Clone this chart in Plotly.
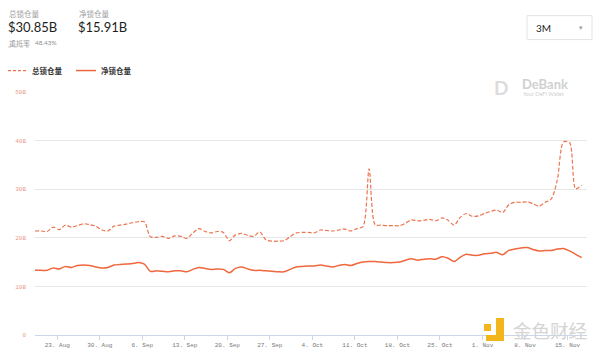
import pandas as pd
import plotly.graph_objects as go

# ---------------- data ----------------
dates = pd.date_range("2021-08-19 08:00", "2021-11-17 08:00", freq="D")

total_locked = [
    21.4, 21.4, 21.3, 22.2, 21.7, 22.6, 22.2, 22.5, 22.9, 22.7, 22.4, 21.6,
    21.4, 22.4, 22.6, 22.8, 23.1, 23.3, 23.3, 20.2, 20.1, 20.3, 19.9, 20.4,
    20.3, 19.9, 21.0, 21.9, 21.3, 21.0, 21.3, 21.1, 19.4, 20.6, 20.9, 20.5,
    20.3, 21.2, 19.6, 19.3, 19.3, 19.4, 20.2, 21.0, 21.1, 21.1, 21.0,
    21.6, 21.5, 21.4, 21.6, 21.8, 21.4, 21.9, 22.3, 34.2, 22.7, 22.6, 22.5,
    22.5, 22.5, 23.0, 23.7, 23.5, 23.6, 23.8, 23.5,
    24.1, 23.6, 22.6, 24.2, 25.0, 24.4, 24.5, 25.0, 25.4, 25.7, 25.2, 26.8,
    27.3, 27.3, 27.4, 27.0, 26.5, 27.3, 28.0, 32.0, 39.7, 39.6, 30.1, 30.85,
]
net_locked = [
    13.3, 13.3, 13.3, 13.8, 13.6, 14.1, 13.9, 14.3, 14.4, 14.3, 14.0, 13.8,
    13.9, 14.4, 14.5, 14.6, 14.7, 14.9, 14.6, 13.1, 13.2, 13.1, 13.0, 13.2,
    13.2, 13.0, 13.5, 13.9, 13.7, 13.5, 13.6, 13.5, 12.8, 13.7, 14.0, 13.6,
    13.3, 13.3, 13.2, 13.1, 13.0, 13.0, 13.5, 14.0, 14.1, 14.2, 14.2,
    14.4, 14.2, 14.0, 14.3, 14.5, 14.3, 14.7, 15.0, 15.1, 15.1, 15.0, 14.9,
    14.9, 15.0, 15.4, 15.7, 15.4, 15.6, 15.7, 15.6,
    16.1, 15.8, 15.1, 16.0, 16.6, 16.4, 16.4, 16.7, 16.8, 17.0, 16.5, 17.4,
    17.7, 17.9, 18.0, 17.6, 17.3, 17.4, 17.4, 17.7, 17.8, 17.3, 16.6, 15.91,
]

x_tick_dates = ["2021-08-23", "2021-08-30", "2021-09-06", "2021-09-13",
                "2021-09-20", "2021-09-27", "2021-10-04", "2021-10-11",
                "2021-10-18", "2021-10-25", "2021-11-01", "2021-11-08",
                "2021-11-15"]
x_tick_labels = ["23. Aug", "30. Aug", "6. Sep", "13. Sep", "20. Sep",
                 "27. Sep", "4. Oct", "11. Oct", "18. Oct", "25. Oct",
                 "1. Nov", "8. Nov", "15. Nov"]
y_tick_vals = [0, 10, 20, 30, 40, 50]
y_tick_labels = ["0", "10B", "20B", "30B", "40B", "50B"]

series_names = ["总锁仓量", "净锁仓量"]
header_values = ["$30.85B", "$15.91B"]
ratio_label = "重抵率"
ratio_value = "48.43%"

# ---------------- layout geometry ----------------
WIDTH, HEIGHT = 600, 354
L, R, T, B = 35, 13, 91.5, 19
PW = WIDTH - L - R
PH = HEIGHT - T - B


def px(x):
    return (x - L) / PW


def py(y):
    return (HEIGHT - B - y) / PH


LINE_COLOR = "#f0673d"

fig = go.Figure()
fig.add_trace(go.Scatter(
    x=dates, y=total_locked, mode="lines", name=series_names[0],
    line=dict(color="#ec7550", width=1.2, dash="4px,2px", shape="spline", smoothing=0.8),
    hoverinfo="skip", showlegend=False,
))
fig.add_trace(go.Scatter(
    x=dates, y=net_locked, mode="lines", name=series_names[1],
    line=dict(color=LINE_COLOR, width=1.5, shape="spline", smoothing=0.8),
    hoverinfo="skip", showlegend=False,
))

mono = "Liberation Mono"
fig.update_xaxes(
    type="date",
    range=["2021-08-19 08:00", "2021-11-18 05:00"],
    tickvals=x_tick_dates, ticktext=x_tick_labels,
    showgrid=False, zeroline=False,
    showline=True, linecolor="#ccd6eb", linewidth=1,
    ticks="outside", ticklen=4, tickcolor="#ccd6eb",
    tickfont=dict(family=mono, size=6, color="#777777"),
    automargin=False,
)
fig.update_yaxes(
    range=[0, 50], tickvals=y_tick_vals, ticktext=y_tick_labels,
    showgrid=True, gridcolor="#e6e6e6", gridwidth=1, zeroline=False,
    showline=False, ticks="",
    ticklabelstandoff=8,
    tickfont=dict(family=mono, size=6, color="#eb9a88"),
    automargin=False,
)

ann = []
shapes = []


def text(x, y, s, size, color, family="Noto Sans CJK SC", xanchor="left", bold=False):
    ann.append(dict(
        x=px(x), y=py(y), xref="paper", yref="paper", text=(f"<b>{s}</b>" if bold else s),
        showarrow=False, xanchor=xanchor, yanchor="middle",
        font=dict(size=size, color=color, family=family),
    ))


# header
text(7, 12.5, series_names[0], 7.5, "#a0a0a0")
text(77, 12.5, series_names[1], 7.5, "#a0a0a0")
text(6, 26, header_values[0], 13, "#1e1e1e", family="Lato")
text(76, 26, header_values[1], 13, "#1e1e1e", family="Lato")
text(7, 42, ratio_label, 7, "#a0a0a0")
text(33, 42, ratio_value, 6.5, "#909090", family="Lato")
shapes.append(dict(type="line", xref="paper", yref="paper",
                   x0=px(8), x1=px(30), y0=py(46.5), y1=py(46.5),
                   line=dict(color="#c0c0c0", width=0.8, dash="dot")))

# legend
shapes.append(dict(type="line", xref="paper", yref="paper",
                   x0=px(8), x1=px(27), y0=py(70), y1=py(70),
                   line=dict(color="#ec7550", width=1.2, dash="3px,2px")))
text(30, 70, series_names[0], 7.5, "#333333", bold=True)
shapes.append(dict(type="line", xref="paper", yref="paper",
                   x0=px(76), x1=px(96), y0=py(70), y1=py(70),
                   line=dict(color=LINE_COLOR, width=1.5)))
text(99, 70, series_names[1], 7.5, "#333333", bold=True)

# range selector box
shapes.append(dict(type="rect", xref="paper", yref="paper",
                   x0=px(527), x1=px(592), y0=py(15), y1=py(39),
                   line=dict(color="#e3e3e3", width=1), fillcolor="white"))
text(534, 27.5, "3M", 10, "#222222", family="Lato")
text(581, 27, "▾", 7, "#a0a0a0", family="DejaVu Sans", xanchor="center")

# DeBank watermark
text(492, 87, "<b>D</b>", 19, "#dcdcdc", family="Lato")
text(520, 83, "DeBank", 13, "#d0d0d0", family="Lato", bold=True)
text(521, 94, "Your DeFi Wallet", 5.5, "#d0d0d0", family="Lato")

# 金色财经 watermark
shapes.append(dict(type="rect", xref="paper", yref="paper",
                   x0=px(484), x1=px(491), y0=py(331), y1=py(324),
                   line=dict(width=0), fillcolor="#f2b51c"))
shapes.append(dict(type="path", xref="paper", yref="paper",
                   path=(f"M {px(496)},{py(318)} L {px(504)},{py(318)} L {px(504)},{py(341)} "
                         f"L {px(486)},{py(341)} L {px(486)},{py(335)} L {px(496)},{py(335)} Z"),
                   line=dict(width=0), fillcolor="#f2b51c"))
text(511, 330, "金色财经", 18.5, "#d4d4d4")

fig.update_layout(
    width=WIDTH, height=HEIGHT,
    margin=dict(l=L, r=R, t=T, b=B),
    paper_bgcolor="white", plot_bgcolor="white",
    annotations=ann, shapes=shapes,
    showlegend=False,
)

fig.write_html("out.html", config={"displayModeBar": False})
